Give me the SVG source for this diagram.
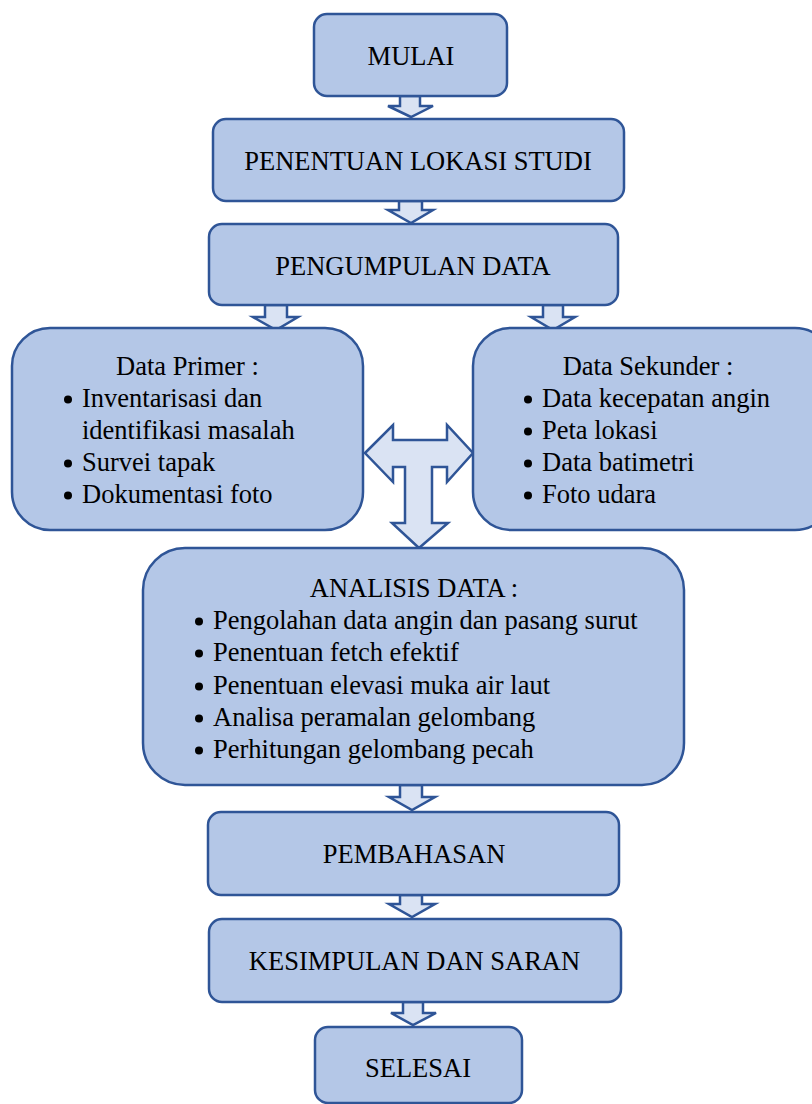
<svg xmlns="http://www.w3.org/2000/svg" width="812" height="1104" viewBox="0 0 812 1104">
<style>
.box{fill:#B4C7E7;stroke:#2F5597;stroke-width:2.5}
.arr{fill:#DAE3F3;stroke:#2F5597;stroke-width:2.5;stroke-linejoin:miter}
text{font-family:"Liberation Serif","Times New Roman",serif;font-size:26.5px;fill:#000}
.c{text-anchor:middle}
.b{fill:#000}
</style>
<rect width="812" height="1104" fill="#fff"/>
<g id="connectors">
<polygon class="arr" points="400,96 420,96 420,106 433,106 411,117 388,106 400,106"/>
<polygon class="arr" points="399,201 422,201 422,210 433,210 411,223 388,210 399,210"/>
<polygon class="arr" points="265,305 287,305 287,317 298,317 276,330 253,317 265,317"/>
<polygon class="arr" points="543,305 563,305 563,317 575,317 553,330 531,317 543,317"/>
<polygon class="arr" points="365,453 393,425 393,440 447,440 447,425 473,453 447,482 447,467 432,467 432,523 448,523 419,548 392,523 405,523 405,467 393,467 393,482"/>
<polygon class="arr" points="400,785 422,785 422,797 435,797 412,810 389,797 400,797"/>
<polygon class="arr" points="400,895 422,895 422,904 435,904 412,917 389,904 400,904"/>
<polygon class="arr" points="403,1002 423,1002 423,1013 436,1013 413,1025 391,1013 403,1013"/>
</g>
<g id="mulai">
<rect class="box" x="314" y="14" width="193" height="82" rx="13"/>
<text class="c" x="411" y="65">MULAI</text>
</g>
<g id="penentuan">
<rect class="box" x="213" y="119" width="411" height="82" rx="13"/>
<text class="c" x="418" y="170">PENENTUAN LOKASI STUDI</text>
</g>
<g id="pengumpulan">
<rect class="box" x="209" y="224" width="409" height="81" rx="13"/>
<text class="c" x="413" y="275">PENGUMPULAN DATA</text>
</g>
<g id="primer">
<rect class="box" x="12" y="328" width="351" height="202" rx="38"/>
<text class="c" x="187.5" y="375">Data Primer :</text>
<circle class="b" cx="68" cy="399.5" r="4"/>
<text x="82" y="407">Inventarisasi dan</text>
<text x="82" y="439">identifikasi masalah</text>
<circle class="b" cx="68" cy="463.5" r="4"/>
<text x="82" y="471">Survei tapak</text>
<circle class="b" cx="68" cy="495.5" r="4"/>
<text x="82" y="503">Dokumentasi foto</text>
</g>
<g id="sekunder">
<rect class="box" x="473" y="328" width="360" height="202" rx="38"/>
<text class="c" x="648" y="375">Data Sekunder :</text>
<circle class="b" cx="528" cy="399.5" r="4"/>
<text x="542" y="407">Data kecepatan angin</text>
<circle class="b" cx="528" cy="431.5" r="4"/>
<text x="542" y="439">Peta lokasi</text>
<circle class="b" cx="528" cy="463.5" r="4"/>
<text x="542" y="471">Data batimetri</text>
<circle class="b" cx="528" cy="495.5" r="4"/>
<text x="542" y="503">Foto udara</text>
</g>
<g id="analisis">
<rect class="box" x="143" y="548" width="541" height="237" rx="42"/>
<text class="c" x="414" y="597">ANALISIS DATA :</text>
<circle class="b" cx="199" cy="621.5" r="4"/>
<text x="213" y="629">Pengolahan data angin dan pasang surut</text>
<circle class="b" cx="199" cy="653.5" r="4"/>
<text x="213" y="661">Penentuan fetch efektif</text>
<circle class="b" cx="199" cy="686.5" r="4"/>
<text x="213" y="694">Penentuan elevasi muka air laut</text>
<circle class="b" cx="199" cy="718.5" r="4"/>
<text x="213" y="726">Analisa peramalan gelombang</text>
<circle class="b" cx="199" cy="750.5" r="4"/>
<text x="213" y="758">Perhitungan gelombang pecah</text>
</g>
<g id="pembahasan">
<rect class="box" x="208" y="812" width="411" height="83" rx="13"/>
<text class="c" x="414" y="863">PEMBAHASAN</text>
</g>
<g id="kesimpulan">
<rect class="box" x="209" y="919" width="412" height="83" rx="13"/>
<text class="c" x="414.5" y="970">KESIMPULAN DAN SARAN</text>
</g>
<g id="selesai">
<rect class="box" x="315" y="1027" width="207" height="76" rx="13"/>
<text class="c" x="418" y="1077">SELESAI</text>
</g>
</svg>
